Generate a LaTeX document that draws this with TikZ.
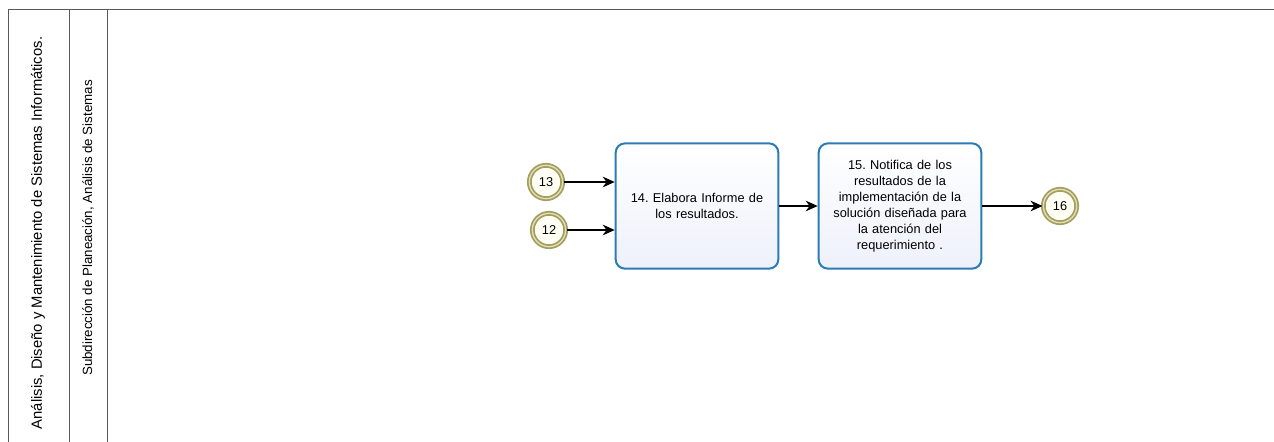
\documentclass[tikz,border=0pt]{standalone}
\usepackage{fontspec}
\setmainfont{Liberation Sans}
\usetikzlibrary{calc}
\usetikzlibrary{positioning,arrows.meta}
\frenchspacing

\definecolor{poolline}{HTML}{5A5A5A}
\definecolor{taskline}{HTML}{2B7BB5}
\definecolor{taskfill}{HTML}{EEF1FB}
\definecolor{ringline}{HTML}{A39E5E}
\definecolor{ringgap}{HTML}{E2DEB8}
\definecolor{ringfill}{HTML}{FFFEF4}

\tikzset{
    task/.style={draw=taskline, line width=1.5pt, rounded corners=7pt,
        top color=white, bottom color=taskfill, minimum width=122pt,
        minimum height=94pt, text width=116pt, align=center,
        font=\fontsize{9.6}{12}\selectfont, inner sep=0pt},
    link/.style={draw=ringline, line width=1.3pt, double=ringgap,
        double distance=1pt, circle, fill=ringfill, minimum size=25pt,
        inner sep=0pt, font=\fontsize{9.6}{10}\selectfont},
    flow/.style={-{Stealth[length=9pt,width=8pt]}, line width=0.9pt},
    lane/.style={draw=poolline, line width=0.6pt}
}

\begin{document}
\begin{tikzpicture}[x=0.75pt, y=-0.75pt]
    \useasboundingbox (0,0) rectangle (1274,442);
    \draw[lane] (1274,9) -- (8,9) -- (8,442);
    \draw[lane] (69,9) -- (69,442);
    \draw[lane] (107,9) -- (107,442);
    \node[rotate=90, font=\fontsize{11.1}{12}\selectfont] (pool) at (38,233)
        {Análisis, Diseño y Mantenimiento de Sistemas Informáticos.};
    \node[rotate=90, font=\fontsize{10}{11}\selectfont] (lane1) at (88,228)
        {Subdirección de Planeación, Análisis de Sistemas};

    \node[task] (t14) at (697,206) {14. Elabora Informe de\\los resultados.};
    \node[task] (t15) at (900,206) {15. Notifica de los\\resultados de la\\implementación de la\\solución diseñada para\\la atención del\\requerimiento .};

    \node[link] (e13) at (546,182) {13};
    \node[link] (e12) at (549,230) {12};
    \node[link] (e16) at (1060,206) {16};

    \draw[flow] (e13) -- (e13 -| t14.west);
    \draw[flow] (e12) -- (e12 -| t14.west);
    \draw[flow] (t14) -- (t15);
    \draw[flow] (t15) -- (e16);
\end{tikzpicture}
\end{document}
